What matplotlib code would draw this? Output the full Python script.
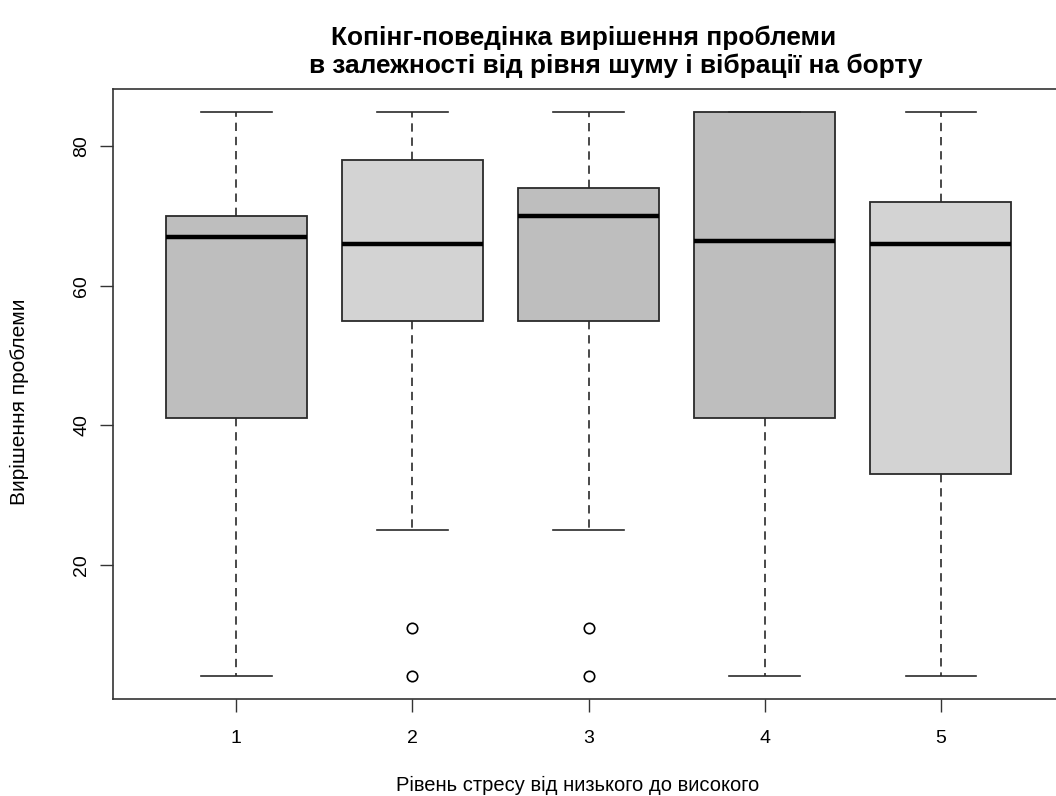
import matplotlib.pyplot as plt

plt.rcParams['font.family'] = ['Liberation Sans', 'DejaVu Sans']

# five-number summaries
groups = ['1', '2', '3', '4', '5']
whisk_lo = [4, 25, 25, 4, 4]
q1 = [41, 55, 55, 41, 33]
med = [67, 66, 70, 66.5, 66]
q3 = [70, 78, 74, 85, 72]
whisk_hi = [85, 85, 85, 85, 85]
outliers = [[], [11, 4], [11, 4], [], []]
box_colors = ['#bebebe', '#d3d3d3', '#bebebe', '#bebebe', '#d3d3d3']

title1 = 'Копінг-поведінка вирішення проблеми'
title2 = 'в залежності від рівня шуму і вібрації на борту'
xlab = 'Рівень стресу від низького до високого'
ylab = 'Вирішення проблеми'

stats = []
for i, g in enumerate(groups):
    stats.append({'label': g, 'whislo': whisk_lo[i], 'q1': q1[i], 'med': med[i],
                  'q3': q3[i], 'whishi': whisk_hi[i], 'fliers': outliers[i]})

fig = plt.figure(figsize=(10.56, 7.96), dpi=100)
ax = fig.add_axes([113 / 1056, 97 / 796, 951 / 1056, 610 / 796])

edge = '#2a2a2a'
bp = ax.bxp(stats, positions=range(1, 6), widths=0.8, patch_artist=True,
            boxprops=dict(edgecolor=edge, linewidth=1.3),
            whiskerprops=dict(color=edge, linewidth=1.2, linestyle=(0, (5, 3.5))),
            capprops=dict(color=edge, linewidth=1.2),
            capwidths=0.4,
            medianprops=dict(color='black', linewidth=3.2, solid_capstyle='butt'),
            flierprops=dict(marker='o', markerfacecolor='white', markeredgecolor='black',
                            markersize=7.5, markeredgewidth=1.2))
for patch, c in zip(bp['boxes'], box_colors):
    patch.set_facecolor(c)

ax.set_xlim(0.3, 5.7)
ax.set_ylim(0.76, 88.24)
ax.set_yticks([20, 40, 60, 80])
ax.set_yticklabels(['20', '40', '60', '80'], rotation=90, va='center')
ax.tick_params(axis='both', direction='out', length=9.5, width=1, color='#333333',
               labelsize=14)
ax.tick_params(axis='x', pad=13)
ax.tick_params(axis='y', pad=7)
for s in ax.spines.values():
    s.set_color('#333333')
    s.set_linewidth(1.2)
ax.spines['right'].set_visible(False)

ax.set_xlabel(xlab, fontsize=14.5, va='center')
ax.xaxis.set_label_coords((578 - 113) / 951, (699 - 785) / 610)
ax.set_ylabel(ylab, fontsize=15, va='center')
ax.yaxis.set_label_coords((19 - 113) / 951, (699 - 402) / 610)

fig.text(584 / 1056, 1 - 38 / 796, title1, ha='center', va='center',
         fontsize=18.9, fontweight='bold')
fig.text(616 / 1056, 1 - 66 / 796, title2, ha='center', va='center',
         fontsize=18.9, fontweight='bold')

plt.savefig('out.png', dpi=100)
